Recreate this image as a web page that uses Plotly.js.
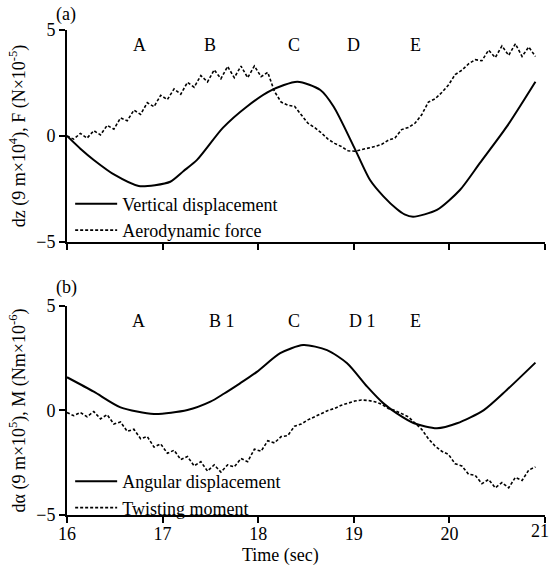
<!DOCTYPE html>
<html>
<head>
<meta charset="utf-8">
<script src="https://cdn.plot.ly/plotly-3.0.1.min.js"></script>
<style>html,body{margin:0;padding:0;background:#fff;}#chart{width:552px;height:569px;}</style>
</head>
<body>
<div id="chart"></div>
<script>
// ---- Panel (a) ----
var tSolidA = [16.0, 16.14, 16.28, 16.5, 16.75, 16.92, 17.08, 17.22, 17.36, 17.63, 17.88, 18.13, 18.41, 18.65, 18.79, 19.0, 19.17, 19.31, 19.45, 19.53, 19.62, 19.87, 20.11, 20.32, 20.6, 20.9];
var verticalDisp = [0, -0.6, -1.13, -1.84, -2.36, -2.32, -2.16, -1.65, -1.13, 0.38, 1.38, 2.14, 2.56, 2.17, 1.38, -0.5, -2.08, -2.85, -3.45, -3.7, -3.81, -3.49, -2.55, -1.27, 0.44, 2.56];

var tDash = [16.00, 16.07, 16.14, 16.21, 16.28, 16.35, 16.42, 16.49, 16.56, 16.63, 16.70, 16.77, 16.84, 16.91, 16.98, 17.05, 17.12, 17.19, 17.26, 17.33, 17.40, 17.47, 17.54, 17.61, 17.68, 17.75, 17.82, 17.89, 17.96, 18.03, 18.10, 18.17, 18.24, 18.31, 18.38, 18.45, 18.52, 18.59, 18.66, 18.73, 18.80, 18.87, 18.94, 19.01, 19.08, 19.15, 19.22, 19.29, 19.36, 19.43, 19.50, 19.57, 19.64, 19.71, 19.78, 19.85, 19.92, 19.99, 20.06, 20.13, 20.20, 20.27, 20.34, 20.41, 20.48, 20.55, 20.62, 20.69, 20.76, 20.83, 20.90];
var aeroForce = [0, -0.15, 0.12, -0.1, 0.25, 0.05, 0.5, 0.32, 0.85, 0.72, 1.22, 1.02, 1.57, 1.38, 1.92, 1.72, 2.22, 1.97, 2.53, 2.3, 2.85, 2.55, 3.12, 2.7, 3.28, 2.75, 3.3, 2.75, 3.3, 2.8, 3.0, 2.1, 1.6, 1.45, 1.4, 1.0, 0.6, 0.4, 0.15, -0.15, -0.35, -0.5, -0.7, -0.72, -0.65, -0.6, -0.5, -0.4, -0.2, -0.1, 0.3, 0.4, 0.6, 1.0, 1.6, 1.75, 2.05, 2.4, 2.9, 3.1, 3.4, 3.6, 3.55, 4.05, 3.7, 4.25, 3.8, 4.35, 3.75, 4.2, 3.75];

// ---- Panel (b) ----
var tSolidB = [16.0, 16.28, 16.56, 16.91, 17.26, 17.5, 17.64, 17.81, 17.99, 18.23, 18.47, 18.72, 18.93, 19.14, 19.31, 19.45, 19.63, 19.87, 20.08, 20.36, 20.6, 20.9];
var angularDisp = [1.59, 0.9, 0.15, -0.17, 0.02, 0.42, 0.8, 1.3, 1.86, 2.74, 3.13, 2.89, 2.26, 1.14, 0.34, -0.14, -0.61, -0.85, -0.61, 0.02, 0.98, 2.29];
var twistMoment = [-0.1, -0.25, -0.1, -0.3, -0.05, -0.4, -0.2, -0.65, -0.55, -1.0, -0.9, -1.35, -1.25, -1.75, -1.6, -2.05, -1.9, -2.35, -2.2, -2.65, -2.45, -2.9, -2.6, -2.95, -2.6, -2.7, -2.3, -2.45, -1.85, -1.95, -1.45, -1.55, -1.25, -1.2, -0.75, -0.65, -0.45, -0.3, -0.15, 0.0, 0.1, 0.25, 0.35, 0.45, 0.5, 0.48, 0.42, 0.3, 0.1, 0.0, -0.15, -0.3, -0.6, -0.9, -1.35, -1.7, -1.95, -2.1, -2.55, -2.65, -3.05, -3.1, -3.5, -3.3, -3.7, -3.45, -3.7, -3.2, -3.35, -2.85, -2.7];

var xTicks = [16, 17, 18, 19, 20, 21];
var xTickText = ['16', '17', '18', '19', '20', ''];
var lastTickLabel = '21';
var yTicks = [-5, 0, 5];
var labelsA = ['A', 'B', 'C', 'D', 'E'];
var labelsAx = [16.76, 17.50, 18.37, 19.0, 19.65];
var labelsB = ['A', 'B 1', 'C', 'D 1', 'E'];
var labelsBx = [16.75, 17.62, 18.37, 19.09, 19.65];

var FONT = "'Liberation Serif', 'Times New Roman', serif";
var solid = {color: '#000', width: 2};
var dashed = {color: '#000', width: 1.6, dash: '3px,2px'};

var traces = [
  {x: tSolidA, y: verticalDisp, type: 'scatter', mode: 'lines', line: Object.assign({shape: 'spline', smoothing: 0.7}, solid), name: 'Vertical displacement', xaxis: 'x', yaxis: 'y', legend: 'legend'},
  {x: tDash, y: aeroForce, type: 'scatter', mode: 'lines', line: dashed, name: 'Aerodynamic force', xaxis: 'x', yaxis: 'y', legend: 'legend'},
  {x: tSolidB, y: angularDisp, type: 'scatter', mode: 'lines', line: Object.assign({shape: 'spline', smoothing: 0.7}, solid), name: 'Angular displacement', xaxis: 'x2', yaxis: 'y2', legend: 'legend2'},
  {x: tDash, y: twistMoment, type: 'scatter', mode: 'lines', line: dashed, name: 'Twisting moment', xaxis: 'x2', yaxis: 'y2', legend: 'legend2'}
];

function xAxis(anchor, showLabels) {
  return {anchor: anchor, range: [16, 21], tickvals: xTicks, ticktext: xTickText, showticklabels: showLabels, ticklabeloverflow: 'allow', ticklabelstandoff: -5, ticks: 'outside', ticklen: 6, tickwidth: 2, tickcolor: '#000', showline: true, linewidth: 2, linecolor: '#000', showgrid: false, zeroline: false, tickfont: {family: FONT, size: 18, color: '#000'}};
}
function yAxis(anchor, domain, title) {
  return {anchor: anchor, domain: domain, range: [-5, 5], tickvals: yTicks, ticks: 'outside', ticklen: 6, tickwidth: 2, tickcolor: '#000', showline: true, linewidth: 2, linecolor: '#000', showgrid: false, zeroline: false, tickfont: {family: FONT, size: 18, color: '#000'}, title: {text: title, font: {family: FONT, size: 18, color: '#000'}, standoff: 6}};
}

var annotations = [];
labelsA.forEach(function (t, i) {
  annotations.push({x: labelsAx[i], y: 4.29, xref: 'x', yref: 'y', text: t, showarrow: false, font: {family: FONT, size: 18, color: '#000'}});
});
labelsB.forEach(function (t, i) {
  annotations.push({x: labelsBx[i], y: 4.28, xref: 'x2', yref: 'y2', text: t, showarrow: false, font: {family: FONT, size: 18, color: '#000'}});
});
annotations.push({x: xTicks[5], xshift: -5, y: -0.034, xref: 'x2', yref: 'paper', text: lastTickLabel, showarrow: false, xanchor: 'center', yanchor: 'middle', font: {family: FONT, size: 18, color: '#000'}});
annotations.push({x: -0.027, y: 1.031, xref: 'paper', yref: 'paper', text: '(a)', showarrow: false, xanchor: 'left', yanchor: 'middle', font: {family: FONT, size: 18, color: '#000'}});
annotations.push({x: -0.027, y: 0.470, xref: 'paper', yref: 'paper', text: '(b)', showarrow: false, xanchor: 'left', yanchor: 'middle', font: {family: FONT, size: 18, color: '#000'}});
annotations.push({x: 0.446, y: -0.0845, xref: 'paper', yref: 'paper', text: 'Time (sec)', showarrow: false, xanchor: 'center', yanchor: 'middle', font: {family: FONT, size: 18, color: '#000'}});

var layout = {
  width: 552, height: 569,
  margin: {l: 67, r: 7, t: 30, b: 54},
  paper_bgcolor: '#fff', plot_bgcolor: '#fff',
  font: {family: FONT, size: 18, color: '#000'},
  showlegend: true,
  xaxis: xAxis('y', false),
  yaxis: yAxis('x', [0.563, 1], 'dz (9 m×10<sup>4</sup>), F (N×10<sup>-5</sup>)'),
  xaxis2: xAxis('y2', true),
  yaxis2: yAxis('x2', [0, 0.431], 'dα (9 m×10<sup>5</sup>), M (Nm×10<sup>-6</sup>)'),
  legend: {x: 0.0066, y: 0.5495, xanchor: 'left', yanchor: 'bottom', bgcolor: 'rgba(0,0,0,0)', font: {family: FONT, size: 18}, tracegroupgap: 0, itemwidth: 42},
  legend2: {x: 0.0066, y: -0.0227, xanchor: 'left', yanchor: 'bottom', bgcolor: 'rgba(0,0,0,0)', font: {family: FONT, size: 18}, tracegroupgap: 0, itemwidth: 42},
  annotations: annotations
};

Plotly.newPlot('chart', traces, layout, {displayModeBar: false, staticPlot: true});
</script>
</body>
</html>
